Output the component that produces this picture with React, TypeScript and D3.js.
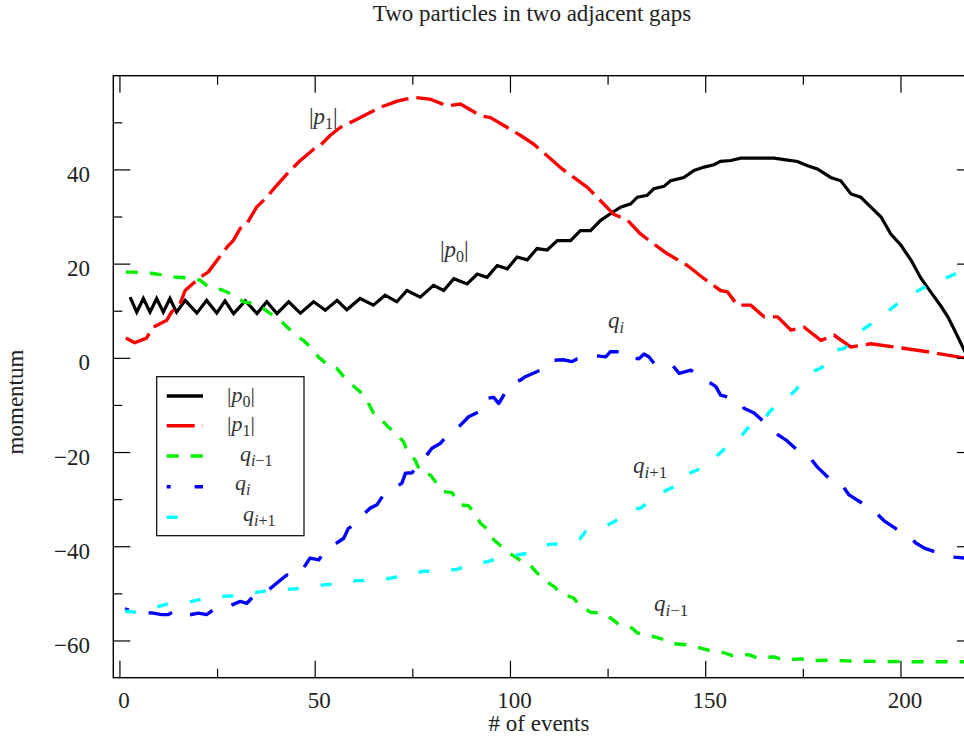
import React from "react";
import * as d3 from "d3";

const TITLE = "Two particles in two adjacent gaps";
const X_LABEL = "# of events";
const Y_LABEL = "momentum";

const xMajorTicks = [0, 50, 100, 150, 200];
const xMinorTicks = [25, 75, 125, 175];
const yMajorTicks = [-60, -40, -20, 0, 20, 40];
const yMinorTicks = [-50, -30, -10, 10, 30, 50];

// |p0|
const p0X = [2.6, 4.3, 6.0, 7.7, 9.4, 11.1, 12.8, 14.5, 16.7, 19.7, 22.2, 24.8, 26.9, 29.1, 32.1, 35.1, 37.6, 40.2, 43.2, 46.2, 49.6, 52.6, 55.6, 58.1, 61.5, 64.9, 67.9, 70.9, 73.5, 76.9, 80.3, 82.9, 85.5, 88.9, 91.5, 94.0, 96.6, 99.2, 101.7, 104.3, 106.8, 109.4, 112.0, 115.4, 117.9, 120.5, 123.1, 125.6, 128.2, 130.8, 132.5, 135.0, 136.7, 139.3, 141.0, 144.4, 147.0, 149.6, 152.1, 153.8, 156.4, 159.0, 161.5, 164.1, 167.5, 170.1, 173.5, 176.1, 178.6, 182.0, 184.6, 187.2, 189.7, 192.3, 194.9, 197.4, 200.0, 202.6, 205.1, 207.7, 210.3, 212.0, 213.7, 216.4, 218.5];
const p0Y = [13.0, 9.8, 12.7, 9.8, 12.7, 9.8, 12.7, 9.8, 12.3, 9.6, 12.3, 9.6, 12.2, 9.5, 12.2, 9.5, 12.0, 9.5, 12.0, 9.6, 12.0, 10.2, 12.3, 10.3, 12.7, 11.3, 13.4, 12.0, 14.4, 13.0, 15.5, 14.4, 16.9, 15.8, 17.9, 17.2, 19.7, 19.0, 21.5, 20.9, 23.3, 23.0, 25.0, 25.0, 27.1, 27.1, 29.3, 30.7, 32.1, 32.8, 34.2, 34.6, 36.0, 36.5, 37.7, 38.4, 39.9, 40.6, 41.1, 41.8, 42.0, 42.5, 42.5, 42.5, 42.5, 42.2, 41.8, 40.9, 40.2, 38.4, 37.7, 34.9, 34.2, 32.1, 30.0, 26.4, 24.0, 20.8, 17.0, 14.0, 11.0, 8.8, 6.0, 1.4, -2.5];

// |p1|
const p1X = [1.5, 3.8, 6.8, 8.5, 12.0, 13.2, 15.4, 16.7, 20.5, 22.6, 27.4, 29.0, 30.8, 32.5, 35.0, 37.6, 39.7, 43.6, 46.2, 49.6, 51.3, 53.8, 56.4, 59.8, 63.2, 66.7, 70.0, 71.0, 75.2, 79.5, 83.8, 87.2, 92.3, 94.9, 99.2, 102.6, 105.9, 109.4, 112.8, 116.2, 119.7, 123.0, 126.4, 130.0, 133.3, 136.7, 140.2, 145.3, 149.6, 153.8, 155.6, 158.1, 161.5, 165.0, 168.4, 171.8, 175.2, 179.5, 182.9, 187.2, 192.3, 198.3, 206.8, 215.4, 218.5];
const p1Y = [4.3, 3.3, 4.3, 6.6, 8.1, 9.8, 11.6, 14.4, 17.2, 18.3, 23.6, 25.0, 27.6, 28.6, 32.1, 34.2, 36.3, 39.9, 42.0, 44.4, 45.2, 47.3, 49.0, 50.4, 51.8, 53.3, 54.3, 54.6, 55.4, 55.0, 53.6, 54.0, 51.5, 51.1, 49.0, 47.3, 45.5, 43.0, 40.5, 38.4, 36.3, 33.5, 30.6, 29.3, 26.4, 24.3, 22.2, 19.7, 16.9, 14.4, 14.1, 11.3, 11.3, 8.8, 8.8, 6.0, 6.6, 3.8, 4.9, 2.4, 3.1, 2.4, 1.4, 0.2, 0.0];

// q_{i-1}
const qm1X = [1.5, 3.4, 8.5, 14.5, 17.1, 20.5, 22.2, 26.5, 28.4, 31.6, 33.8, 36.7, 38.5, 41.5, 42.7, 45.7, 47.0, 50.0, 50.8, 53.8, 55.6, 57.7, 59.0, 61.5, 63.2, 65.0, 66.2, 68.6, 70.3, 72.6, 73.5, 75.6, 76.9, 79.5, 80.8, 82.9, 85.0, 87.2, 89.3, 91.5, 92.3, 94.9, 95.7, 98.7, 100.0, 103.0, 104.7, 107.3, 108.5, 111.1, 112.8, 116.2, 117.5, 120.5, 123.1, 125.6, 127.8, 131.2, 132.5, 136.3, 138.5, 142.0, 144.9, 148.7, 150.9, 154.7, 156.8, 161.1, 163.2, 167.5, 169.7, 174.4, 176.5, 180.3, 190.0, 200.0, 210.0, 218.5];
const qm1Y = [18.3, 18.3, 18.0, 17.2, 17.1, 16.6, 15.5, 14.4, 13.7, 12.0, 11.7, 10.6, 9.5, 7.7, 6.7, 4.5, 3.8, 1.4, 0.3, -1.8, -2.2, -4.3, -5.3, -7.1, -8.9, -11.7, -12.4, -14.5, -15.6, -17.7, -19.5, -21.6, -24.1, -24.8, -26.2, -28.3, -28.5, -31.1, -31.3, -33.7, -35.0, -36.8, -38.5, -40.7, -41.5, -43.1, -43.6, -46.0, -47.0, -48.4, -49.8, -50.9, -52.3, -53.9, -54.1, -55.1, -56.5, -57.3, -58.3, -59.0, -59.5, -60.6, -60.8, -61.5, -62.0, -62.5, -63.1, -62.9, -63.6, -63.4, -64.0, -63.8, -64.2, -64.1, -64.3, -64.4, -64.4, -64.4];

// q_i
const qiX = [1.3, 2.8, 8.5, 10.7, 12.4, 13.5, 15.0, 17.5, 20.1, 22.2, 23.9, 26.3, 28.5, 30.8, 32.5, 34.2, 36.3, 38.3, 40.2, 42.7, 45.3, 47.0, 48.7, 50.9, 53.0, 55.0, 57.3, 58.5, 60.7, 62.5, 64.1, 65.8, 67.5, 69.5, 72.2, 73.1, 74.8, 76.5, 78.6, 79.9, 82.0, 85.0, 86.8, 88.5, 89.3, 92.7, 93.6, 95.7, 97.0, 98.5, 100.4, 100.9, 102.6, 103.8, 107.7, 109.4, 111.1, 113.5, 115.8, 117.1, 120.5, 124.4, 125.6, 127.8, 128.6, 132.9, 134.2, 135.5, 136.8, 141.5, 143.2, 146.2, 149.6, 151.3, 152.6, 153.8, 158.5, 159.8, 162.4, 166.2, 167.9, 170.5, 174.4, 176.5, 178.6, 182.5, 184.6, 186.7, 191.5, 193.2, 195.7, 200.4, 202.1, 203.8, 206.0, 211.5, 213.7, 216.4, 218.5];
const qiY = [-53.2, -53.6, -54.1, -54.4, -54.4, -53.9, -54.9, -54.5, -54.1, -54.4, -53.4, -53.2, -52.4, -51.6, -52.0, -50.5, -50.2, -49.0, -47.7, -46.0, -46.2, -44.5, -42.4, -42.8, -40.3, -39.5, -38.2, -36.1, -35.0, -33.0, -31.8, -31.1, -29.0, -28.0, -26.5, -24.4, -24.3, -22.5, -20.5, -19.1, -18.1, -15.2, -14.5, -13.1, -12.4, -11.0, -8.5, -8.3, -9.6, -7.5, -6.0, -5.0, -4.6, -3.9, -2.5, -2.4, -0.4, -0.3, -0.7, -0.1, 0.7, 0.3, 1.4, 1.4, 0.3, -0.1, 0.9, 0.3, -1.1, -1.5, -3.2, -2.5, -4.6, -5.3, -6.0, -7.8, -8.9, -10.6, -11.6, -14.5, -15.9, -17.3, -20.2, -20.9, -23.1, -26.2, -26.5, -29.0, -31.5, -32.5, -34.5, -37.1, -37.8, -39.2, -40.3, -41.9, -42.2, -42.4, -42.5];

// q_{i+1}
const qp1X = [1.3, 4.3, 9.8, 12.4, 18.4, 20.9, 26.9, 29.5, 35.0, 38.0, 43.6, 46.6, 52.1, 55.1, 60.7, 63.7, 69.2, 71.8, 77.8, 80.3, 86.3, 88.5, 94.4, 96.2, 102.1, 104.3, 109.8, 112.4, 117.9, 119.2, 124.8, 126.5, 131.2, 133.3, 137.6, 139.3, 144.4, 145.3, 150.0, 151.7, 155.6, 157.7, 161.1, 163.7, 166.7, 168.8, 172.6, 173.9, 177.8, 179.7, 182.9, 185.5, 188.9, 190.6, 194.9, 197.0, 201.3, 203.4, 208.5, 211.1, 215.0, 218.5];
const qp1Y = [-53.7, -53.9, -52.7, -52.1, -51.6, -51.1, -50.5, -50.4, -49.7, -49.3, -49.0, -48.8, -48.1, -47.9, -47.2, -47.2, -46.7, -46.2, -45.2, -45.2, -44.8, -44.2, -43.1, -42.6, -41.7, -41.4, -39.5, -39.4, -38.2, -36.8, -35.4, -34.7, -32.0, -31.8, -29.2, -28.3, -26.2, -24.6, -22.9, -21.6, -18.6, -17.9, -14.5, -14.2, -11.0, -9.9, -7.1, -5.9, -2.7, -2.0, 1.7, 2.1, 5.2, 6.3, 8.8, 10.2, 13.0, 13.9, 16.2, 16.9, 18.3, 19.5];

const W = 964;
const H = 740;
const PL = 113.3;
const PR = 974;
const PT = 75.7;
const PB = 677.7;
const SERIF = "'Liberation Serif', 'Times New Roman', serif";
const TXT = "#222";

type Pt = [number, number];
const zipPts = (xs: number[], ys: number[]): Pt[] => xs.map((x, i) => [x, ys[i]]);

const series = [
  { key: "p0", xs: p0X, ys: p0Y, color: "#000000", dash: "none", offset: 0, width: 3.2, join: "miter" },
  { key: "p1", xs: p1X, ys: p1Y, color: "#ff0000", dash: "28,8", offset: 0, width: 3.4, join: "round" },
  { key: "qm1", xs: qm1X, ys: qm1Y, color: "#00ee00", dash: "12,12", offset: 0, width: 3.4, join: "round" },
  { key: "qi", xs: qiX, ys: qiY, color: "#0000ff", dash: "24,20", offset: 20, width: 3.4, join: "round" },
  { key: "qp1", xs: qp1X, ys: qp1Y, color: "#00ffff", dash: "11,22", offset: 0, width: 3.4, join: "round" },
];

function MathLabel(props: { x: number; y: number; base: string; sub: string; bars?: boolean; size?: number; subSize?: number }) {
  const { x, y, base, sub, bars, size = 22, subSize = 16 } = props;
  const subParts: React.ReactNode[] = [];
  // sub like "i−1" => italic i then upright rest
  if (sub.startsWith("i")) {
    subParts.push(<tspan key="i" fontStyle="italic">i</tspan>);
    if (sub.length > 1) subParts.push(<tspan key="r">{sub.slice(1)}</tspan>);
  } else {
    subParts.push(<tspan key="d">{sub}</tspan>);
  }
  return (
    <text x={x} y={y} fontFamily={SERIF} fontSize={size} fill="#333">
      {bars ? <tspan>|</tspan> : null}
      <tspan fontStyle="italic">{base}</tspan>
      <tspan fontSize={subSize} dy={5}>{subParts}</tspan>
      {bars ? <tspan dy={-5}>|</tspan> : null}
    </text>
  );
}

export default function App() {
  const x = d3.scaleLinear().domain([-1.7, 218.7]).range([PL, PR]);
  const y = d3.scaleLinear().domain([-67.8, 60]).range([PB, PT]);
  const line = d3.line<Pt>().x((d) => x(d[0])).y((d) => y(d[1]));

  const MAJ = 17;
  const MIN = 9;

  const legendRows = [
    { key: "p0", yy: 396, color: "#000000", dash: "none", offset: 0, label: <MathLabel x={227} y={402} base="p" sub="0" bars size={22} /> },
    { key: "p1", yy: 425.7, color: "#ff0000", dash: "28,8", offset: 0, label: <MathLabel x={227} y={431} base="p" sub="1" bars size={22} /> },
    { key: "qm1", yy: 456, color: "#00ee00", dash: "12,12", offset: 0, label: <MathLabel x={240} y={461} base="q" sub="i−1" size={22} /> },
    { key: "qi", yy: 486.7, color: "#0000ff", dash: "24,24", offset: 20, label: <MathLabel x={235} y={490} base="q" sub="i" size={22} /> },
    { key: "qp1", yy: 517.3, color: "#00ffff", dash: "11,30", offset: 0, label: <MathLabel x={243} y={521} base="q" sub="i+1" size={22} /> },
  ];

  return (
    <svg width={W} height={H} style={{ position: "absolute", left: 0, top: 0, background: "#fff" }}>
      <rect x={0} y={0} width={W} height={H} fill="#fff" />
      <defs>
        <clipPath id="plotclip">
          <rect x={PL} y={PT} width={PR - PL} height={PB - PT} />
        </clipPath>
      </defs>

      <text x={532} y={21} textAnchor="middle" fontFamily={SERIF} fontSize={23} fill={TXT}>
        {TITLE}
      </text>

      <g clipPath="url(#plotclip)">
        {series.map((s) => (
          <path
            key={s.key}
            d={line(zipPts(s.xs, s.ys)) || ""}
            fill="none"
            stroke={s.color}
            strokeWidth={s.width}
            strokeDasharray={s.dash}
            strokeDashoffset={s.offset}
            strokeLinejoin={s.join as any}
            strokeMiterlimit={6}
          />
        ))}
      </g>

      {/* frame */}
      <rect x={PL} y={PT} width={PR - PL} height={PB - PT} fill="none" stroke="#000" strokeWidth={1.4} />

      {/* x ticks */}
      {xMajorTicks.map((t) => (
        <g key={"xM" + t}>
          <line x1={x(t)} x2={x(t)} y1={PB} y2={PB - MAJ} stroke="#000" strokeWidth={1.2} />
          <line x1={x(t)} x2={x(t)} y1={PT} y2={PT + MAJ} stroke="#000" strokeWidth={1.2} />
          <text x={x(t) + 4} y={708} textAnchor="middle" fontFamily={SERIF} fontSize={23} fill={TXT}>
            {t}
          </text>
        </g>
      ))}
      {xMinorTicks.map((t) => (
        <g key={"xm" + t}>
          <line x1={x(t)} x2={x(t)} y1={PB} y2={PB - MIN} stroke="#000" strokeWidth={1.2} />
          <line x1={x(t)} x2={x(t)} y1={PT} y2={PT + MIN} stroke="#000" strokeWidth={1.2} />
        </g>
      ))}

      {/* y ticks */}
      {yMajorTicks.map((t) => (
        <g key={"yM" + t}>
          <line x1={PL} x2={PL + MAJ} y1={y(t)} y2={y(t)} stroke="#000" strokeWidth={1.2} />
          <line x1={PR} x2={PR - MAJ} y1={y(t)} y2={y(t)} stroke="#000" strokeWidth={1.2} />
          <text x={90} y={y(t) + 12} textAnchor="end" fontFamily={SERIF} fontSize={23} fill={TXT}>
            {t < 0 ? "\u2212" + Math.abs(t) : String(t)}
          </text>
        </g>
      ))}
      {yMinorTicks.map((t) => (
        <g key={"ym" + t}>
          <line x1={PL} x2={PL + MIN} y1={y(t)} y2={y(t)} stroke="#000" strokeWidth={1.2} />
          <line x1={PR} x2={PR - MIN} y1={y(t)} y2={y(t)} stroke="#000" strokeWidth={1.2} />
        </g>
      ))}

      <text x={539} y={731} textAnchor="middle" fontFamily={SERIF} fontSize={23} fill={TXT}>
        {X_LABEL}
      </text>
      <text transform="translate(23,402) rotate(-90)" textAnchor="middle" fontFamily={SERIF} fontSize={23} fill={TXT}>
        {Y_LABEL}
      </text>

      {/* in-plot labels */}
      <MathLabel x={309} y={124} base="p" sub="1" bars size={23} />
      <MathLabel x={440} y={257} base="p" sub="0" bars size={23} />
      <MathLabel x={608} y={328} base="q" sub="i" size={23} />
      <MathLabel x={633} y={473} base="q" sub="i+1" size={23} subSize={17} />
      <MathLabel x={654} y={611} base="q" sub="i−1" size={23} subSize={17} />

      {/* legend */}
      <rect x={156.7} y={376.7} width={147.3} height={159} fill="#fff" stroke="#000" strokeWidth={1.2} />
      {legendRows.map((r) => (
        <g key={"lg" + r.key}>
          <line
            x1={166.7}
            x2={203}
            y1={r.yy}
            y2={r.yy}
            stroke={r.color}
            strokeWidth={3.4}
            strokeDasharray={r.dash}
            strokeDashoffset={r.offset}
          />
          {r.label}
        </g>
      ))}
    </svg>
  );
}
